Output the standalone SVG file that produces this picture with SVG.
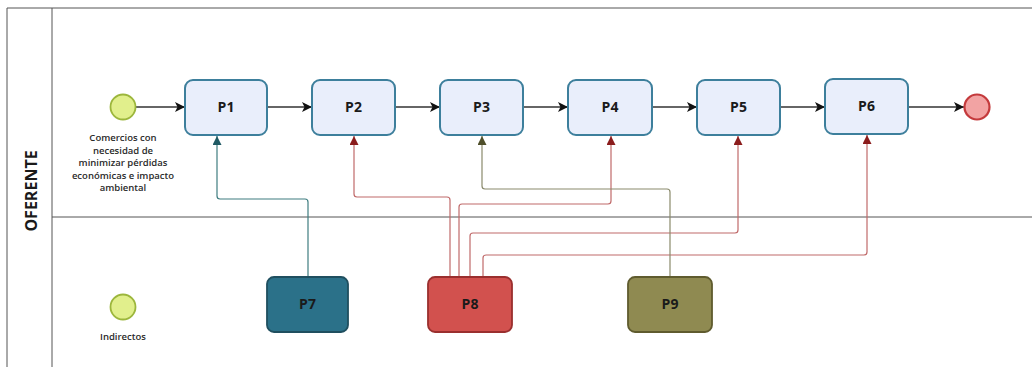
<svg xmlns="http://www.w3.org/2000/svg" width="1032" height="367" viewBox="0 0 1032 367">
<defs>
<style>
.lane{fill:none;stroke:#555;stroke-width:1}
.task{fill:#e9eefb;stroke:#3d7f9c;stroke-width:2}
.lbl{font-family:"Open Sans","Liberation Sans",sans-serif;font-weight:700;font-size:14px;fill:#1a1a1a;text-anchor:middle}
.small{font-family:"Open Sans","Liberation Sans",sans-serif;font-weight:600;font-size:9.5px;fill:#2a2a2a;text-anchor:middle}
.seq{fill:none;stroke:#333;stroke-width:1.3;marker-end:url(#ab)}
.red{fill:none;stroke:#c06a6a;stroke-width:1.2;marker-end:url(#ar)}
.teal{fill:none;stroke:#3f7d80;stroke-width:1.2;marker-end:url(#at)}
.olive{fill:none;stroke:#8a8a6c;stroke-width:1.2;marker-end:url(#ao)}
</style>
<marker id="ab" viewBox="0 0 10 10" refX="10" refY="5" markerWidth="10" markerHeight="10" markerUnits="userSpaceOnUse" orient="auto"><path d="M0,0 L10,5 L0,10 L2.5,5 z" fill="#111"/></marker>
<marker id="ar" viewBox="0 0 10 10" refX="10" refY="5" markerWidth="9" markerHeight="9" markerUnits="userSpaceOnUse" orient="auto"><path d="M0,0 L10,5 L0,10 z" fill="#8b1c1c"/></marker>
<marker id="at" viewBox="0 0 10 10" refX="10" refY="5" markerWidth="9" markerHeight="9" markerUnits="userSpaceOnUse" orient="auto"><path d="M0,0 L10,5 L0,10 z" fill="#1f5a64"/></marker>
<marker id="ao" viewBox="0 0 10 10" refX="10" refY="5" markerWidth="9" markerHeight="9" markerUnits="userSpaceOnUse" orient="auto"><path d="M0,0 L10,5 L0,10 z" fill="#4f4f2a"/></marker>
</defs>
<rect width="1032" height="367" fill="#fff"/>
<g id="pool">
<path class="lane" d="M7,367 V8 H1032"/>
<line class="lane" x1="52" y1="8" x2="52" y2="367"/>
<line class="lane" x1="52" y1="217" x2="1032" y2="217"/>
<text transform="translate(37,191) rotate(-90)" font-family="'Open Sans','Liberation Sans',sans-serif" font-weight="700" font-size="16" fill="#1a1a1a" text-anchor="middle">OFERENTE</text>
</g>
<g id="connectors">
<line class="seq" x1="136" y1="107" x2="185" y2="107"/>
<line class="seq" x1="267" y1="107" x2="312" y2="107"/>
<line class="seq" x1="395" y1="107" x2="440" y2="107"/>
<line class="seq" x1="523" y1="107" x2="568" y2="107"/>
<line class="seq" x1="652" y1="107" x2="697" y2="107"/>
<line class="seq" x1="780" y1="107" x2="825" y2="107"/>
<line class="seq" x1="908" y1="107" x2="964" y2="107"/>
<path class="teal" d="M308,277 V202 Q308,199 305,199 H220 Q217,199 217,196 V136"/>
<path class="red" d="M450,277 V200 Q450,197 447,197 H357 Q354,197 354,194 V136"/>
<path class="red" d="M459,277 V207 Q459,204 462,204 H608 Q611,204 611,201 V136"/>
<path class="red" d="M470,277 V236 Q470,233 473,233 H735 Q738,233 738,230 V136"/>
<path class="red" d="M483,277 V258 Q483,255 486,255 H864 Q867,255 867,252 V135"/>
<path class="olive" d="M670,277 V192 Q670,189 667,189 H485 Q482,189 482,186 V136"/>
</g>
<g id="start1">
<circle cx="123" cy="107" r="12.5" fill="#e1ef8c" stroke="#9cb63c" stroke-width="1.8"/>
<text class="small"><tspan x="123" y="141">Comercios con</tspan><tspan x="123" y="153.5">necesidad de</tspan><tspan x="123" y="166">minimizar pérdidas</tspan><tspan x="123" y="178.5">económicas e impacto</tspan><tspan x="123" y="191">ambiental</tspan></text>
</g>
<g id="start2">
<circle cx="123" cy="307" r="12.5" fill="#e1ef8c" stroke="#9cb63c" stroke-width="1.8"/>
<text class="small" x="123" y="340">Indirectos</text>
</g>
<g id="end">
<circle cx="977" cy="107" r="12.5" fill="#f2a3a3" stroke="#c43a3c" stroke-width="2.2"/>
</g>
<g id="P1"><rect class="task" x="185" y="80" width="82" height="55" rx="8"/><text class="lbl" x="226" y="112">P1</text></g>
<g id="P2"><rect class="task" x="312" y="80" width="83" height="55" rx="8"/><text class="lbl" x="353.5" y="112">P2</text></g>
<g id="P3"><rect class="task" x="440" y="80" width="83" height="55" rx="8"/><text class="lbl" x="481.5" y="112">P3</text></g>
<g id="P4"><rect class="task" x="568" y="80" width="84" height="55" rx="8"/><text class="lbl" x="610" y="112">P4</text></g>
<g id="P5"><rect class="task" x="697" y="80" width="83" height="55" rx="8"/><text class="lbl" x="738.5" y="112">P5</text></g>
<g id="P6"><rect class="task" x="825" y="79" width="83" height="55" rx="8"/><text class="lbl" x="866.5" y="111">P6</text></g>
<g id="P7"><rect x="267" y="277" width="81" height="55" rx="7" fill="#2b7189" stroke="#1f4f5f" stroke-width="1.8"/><text class="lbl" x="307.5" y="309">P7</text></g>
<g id="P8"><rect x="428" y="277" width="84" height="55" rx="7" fill="#d2514e" stroke="#9a2f2e" stroke-width="1.8"/><text class="lbl" x="470" y="309">P8</text></g>
<g id="P9"><rect x="628" y="277" width="84" height="55" rx="7" fill="#8f8a51" stroke="#5f5b2e" stroke-width="1.8"/><text class="lbl" x="670" y="309">P9</text></g>
</svg>
